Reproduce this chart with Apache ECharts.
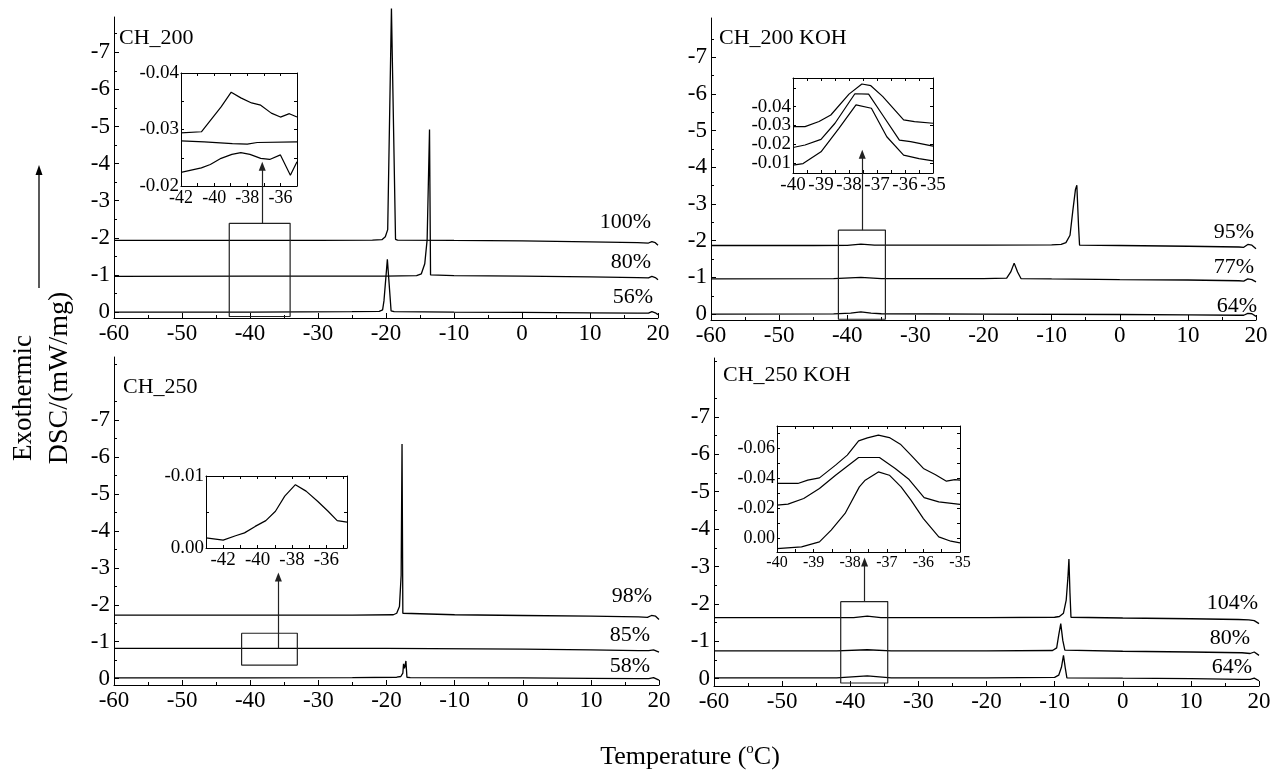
<!DOCTYPE html>
<html><head><meta charset="utf-8">
<script src="https://cdn.jsdelivr.net/npm/echarts@6/dist/echarts.min.js"></script>
<style>html,body{margin:0;padding:0;background:#fff}#c{width:1285px;height:772px}</style>
</head><body><div id="c"></div>
<script>
// ---------------- data ----------------
const panelTitles = ['CH_200', 'CH_200 KOH', 'CH_250', 'CH_250 KOH'];
const xTicks = [-60, -50, -40, -30, -20, -10, 0, 10, 20];
const yTicks = [-7, -6, -5, -4, -3, -2, -1, 0];
const yMinorTicks = [-8.5, -7.5, -6.5, -5.5, -4.5, -3.5, -2.5, -1.5, -0.5];

// CH_200
const ch200Labels = ['100%', '80%', '56%'];
const ch200_100 = [[-60,-1.93],[-45,-1.93],[-30,-1.93],[-22,-1.94],[-20.6,-1.95],[-20.1,-2.03],[-19.75,-2.22],[-19.2,-8.18],[-18.6,-1.96],[-18.3,-1.94],[-10,-1.93],[0,-1.92],[10,-1.89],[17,-1.87],[18.6,-1.86],[19.1,-1.9],[19.6,-1.87],[20,-1.8]];
const ch200_80 = [[-60,-0.96],[-40,-0.97],[-20,-0.97],[-15.5,-0.98],[-14.8,-1.03],[-14.3,-1.3],[-13.95,-1.95],[-13.6,-4.92],[-13.45,-1.0],[-13.2,-0.99],[-10,-0.98],[0,-0.97],[10,-0.95],[17,-0.93],[18.6,-0.92],[19.1,-0.96],[19.6,-0.93],[20,-0.87]];
const ch200_56 = [[-60,0.0],[-40,0.0],[-25,-0.01],[-21,-0.02],[-20.5,-0.06],[-20.3,-0.3],[-19.8,-1.42],[-19.25,-0.03],[-18.8,-0.01],[-10,0.0],[0,0.01],[10,0.02],[17,0.03],[18.6,0.03],[19.1,-0.01],[19.6,0.02],[20,0.07]];
const ch200Window = [-43.05, -34.1, -2.39, 0.12];
const ch200Arrow = [-38.2, -2.39, -3.93];
const ch200InsetX = [-42, -35];
const ch200InsetY = [-0.04, -0.02];
const ch200InsetXLabels = [-42, -40, -38, -36];
const ch200InsetXTicks = [-42, -41, -40, -39, -38, -37, -36, -35];
const ch200InsetYLabels = [-0.04, -0.03, -0.02];
const ch200InsetYTicks = [-0.04, -0.035, -0.03, -0.025, -0.02];
const ch200InsetA = [[-42,-0.0294],[-40.77,-0.0296],[-39.58,-0.034],[-38.97,-0.0366],[-38.39,-0.0356],[-37.74,-0.0347],[-37.19,-0.0343],[-36.55,-0.0329],[-36.0,-0.0322],[-35.46,-0.0328],[-35,-0.0322]];
const ch200InsetB = [[-42,-0.028],[-40.6,-0.0278],[-38.9,-0.0275],[-38.0,-0.0274],[-37.4,-0.0277],[-35,-0.0278]];
const ch200InsetC = [[-42,-0.0224],[-40.77,-0.0232],[-40.23,-0.0238],[-39.58,-0.0249],[-38.93,-0.0256],[-38.39,-0.0259],[-37.84,-0.0256],[-37.19,-0.0249],[-36.65,-0.0247],[-36.0,-0.0255],[-35.4,-0.0219],[-35,-0.0243]];

// CH_200 KOH
const ch200kLabels = ['95%', '77%', '64%'];
const ch200k_95 = [[-60,-1.87],[-45,-1.87],[-40,-1.875],[-38,-1.91],[-36,-1.88],[-20,-1.88],[-10,-1.89],[-8.6,-1.9],[-7.9,-1.95],[-7.3,-2.15],[-6.9,-2.8],[-6.5,-3.4],[-6.3,-3.51],[-6.05,-2.4],[-5.9,-1.88],[0,-1.87],[10,-1.85],[17.5,-1.83],[18.2,-1.82],[18.8,-1.9],[19.4,-1.88],[20,-1.78]];
const ch200k_77 = [[-60,-0.96],[-42,-0.965],[-38,-1.0],[-35,-0.97],[-20,-0.97],[-16.6,-0.98],[-16.0,-1.15],[-15.5,-1.39],[-15.0,-1.15],[-14.5,-0.97],[-10,-0.96],[0,-0.94],[10,-0.93],[17.5,-0.91],[18.2,-0.9],[18.8,-0.96],[19.4,-0.94],[20,-0.88]];
const ch200k_64 = [[-60,0.0],[-42,-0.005],[-39.5,-0.03],[-38,-0.06],[-36.5,-0.03],[-35,-0.01],[-20,0.0],[0,0.01],[10,0.02],[17.5,0.03],[18.2,0.03],[18.8,-0.02],[19.4,-0.01],[20,0.06]];
const ch200kWindow = [-41.3, -34.4, -2.29, 0.14];
const ch200kArrow = [-37.8, -2.29, -4.36];
const ch200kInsetX = [-40, -35];
const ch200kInsetY = [-0.0552, -0.0046];
const ch200kInsetXLabels = [-40, -39, -38, -37, -36, -35];
const ch200kInsetXTicks = [-40, -39.5, -39, -38.5, -38, -37.5, -37, -36.5, -36, -35.5, -35];
const ch200kInsetYLabels = [-0.04, -0.03, -0.02, -0.01];
const ch200kInsetYTicks = [-0.05, -0.04, -0.03, -0.02, -0.01];
const ch200kInsetA = [[-40,-0.0293],[-39.57,-0.0293],[-39.07,-0.032],[-38.65,-0.0355],[-38.0,-0.0466],[-37.54,-0.052],[-37.22,-0.0511],[-36.8,-0.0454],[-36.05,-0.0329],[-35.66,-0.032],[-35,-0.0311]];
const ch200kInsetB = [[-40,-0.0182],[-39.57,-0.0195],[-39.0,-0.0225],[-38.5,-0.0311],[-37.79,-0.0468],[-37.3,-0.0466],[-36.8,-0.0355],[-36.2,-0.0221],[-35.8,-0.0213],[-35,-0.0189]];
const ch200kInsetC = [[-40,-0.0088],[-39.64,-0.0096],[-39.0,-0.0159],[-38.36,-0.0284],[-37.75,-0.0409],[-37.2,-0.0391],[-36.65,-0.0239],[-36.05,-0.0141],[-35.5,-0.0123],[-35,-0.0111]];

// CH_250
const ch250Labels = ['98%', '85%', '58%'];
const ch250_98 = [[-60,-1.72],[-40,-1.72],[-25,-1.72],[-19,-1.73],[-18.5,-1.77],[-18.1,-1.95],[-17.85,-2.8],[-17.72,-6.35],[-17.6,-1.77],[-17.4,-1.74],[-10,-1.73],[0,-1.71],[10,-1.69],[17,-1.67],[18.3,-1.66],[18.9,-1.71],[19.5,-1.69],[20,-1.6]];
const ch250_85 = [[-60,-0.82],[-40,-0.82],[-20,-0.82],[0,-0.8],[10,-0.78],[17,-0.76],[18.5,-0.76],[19.2,-0.78],[20,-0.72]];
const ch250_58 = [[-60,-0.02],[-40,-0.02],[-25,-0.03],[-18.5,-0.04],[-17.9,-0.06],[-17.6,-0.15],[-17.5,-0.4],[-17.35,-0.28],[-17.15,-0.48],[-17.0,-0.04],[-16.5,-0.03],[0,-0.02],[10,-0.01],[17,0.0],[18.5,0.0],[19.2,-0.03],[20,0.04]];
const ch250Window = [-41.27, -33.09, -1.23, -0.37];
const ch250Arrow = [-35.87, -0.82, -2.75];
const ch250InsetX = [-43, -34.8];
const ch250InsetY = [-0.01, 0];
const ch250InsetXLabels = [-42, -40, -38, -36];
const ch250InsetXTicks = [-43, -42, -41, -40, -39, -38, -37, -36, -35];
const ch250InsetYLabels = [-0.01, 0];
const ch250InsetYTicks = [-0.01, -0.005, 0];
const ch250InsetA = [[-43,-0.0014],[-42,-0.0011],[-41.28,-0.0017],[-40.76,-0.0021],[-40.14,-0.003],[-39.52,-0.0038],[-38.96,-0.0051],[-38.42,-0.0072],[-37.8,-0.0088],[-37.18,-0.0079],[-36.51,-0.0065],[-35.9,-0.0051],[-35.37,-0.0038],[-34.8,-0.0036]];

// CH_250 KOH
const ch250kLabels = ['104%', '80%', '64%'];
const ch250k_104 = [[-60,-1.63],[-45,-1.63],[-39.5,-1.63],[-37.5,-1.67],[-35.5,-1.63],[-20,-1.63],[-10,-1.64],[-9.3,-1.66],[-8.7,-1.75],[-8.3,-2.1],[-8.05,-2.7],[-7.9,-3.2],[-7.75,-2.3],[-7.6,-1.64],[0,-1.62],[10,-1.6],[17,-1.58],[18.5,-1.57],[19.3,-1.55],[20,-1.47]];
const ch250k_80 = [[-60,-0.74],[-42,-0.74],[-37.5,-0.77],[-34,-0.74],[-20,-0.74],[-10.3,-0.75],[-9.7,-0.82],[-9.4,-1.16],[-9.1,-1.47],[-8.8,-1.02],[-8.5,-0.76],[0,-0.73],[10,-0.71],[17.5,-0.69],[18.7,-0.67],[19.3,-0.71],[20,-0.62]];
const ch250k_64 = [[-60,-0.02],[-42,-0.02],[-37.5,-0.07],[-34,-0.02],[-20,-0.02],[-10,-0.03],[-9.4,-0.09],[-9.0,-0.3],[-8.7,-0.62],[-8.45,-0.3],[-8.2,-0.02],[0,-0.01],[10,0.0],[17.5,0.02],[18.7,0.02],[19.3,-0.01],[20,0.06]];
const ch250kWindow = [-41.4, -34.5, -2.06, 0.12];
const ch250kArrow = [-37.9, -2.06, -3.12];
const ch250kInsetX = [-40, -35];
const ch250kInsetY = [-0.075, 0.009];
const ch250kInsetXLabels = [-40, -39, -38, -37, -36, -35];
const ch250kInsetXTicks = [-40, -39.5, -39, -38.5, -38, -37.5, -37, -36.5, -36, -35.5, -35];
const ch250kInsetYLabels = [-0.06, -0.04, -0.02, 0];
const ch250kInsetYTicks = [-0.07, -0.06, -0.05, -0.04, -0.03, -0.02, -0.01, 0];
const ch250kInsetA = [[-40,-0.0367],[-39.43,-0.0367],[-39.16,-0.0389],[-38.84,-0.0404],[-38.4,-0.0489],[-38.08,-0.0556],[-37.77,-0.0651],[-37.53,-0.0671],[-37.23,-0.0689],[-36.93,-0.0673],[-36.63,-0.0629],[-36.34,-0.0556],[-36.0,-0.0467],[-35.68,-0.0427],[-35.37,-0.0382],[-35.14,-0.0393],[-35,-0.0389]];
const ch250kInsetB = [[-40,-0.0222],[-39.7,-0.0229],[-39.27,-0.0267],[-38.84,-0.0333],[-38.4,-0.0422],[-37.77,-0.054],[-37.2,-0.054],[-36.77,-0.0467],[-36.39,-0.0393],[-35.98,-0.0273],[-35.58,-0.0244],[-35,-0.0227]];
const ch250kInsetC = [[-40,0.0067],[-39.33,0.0056],[-38.84,0.0022],[-38.52,-0.0056],[-38.14,-0.0167],[-37.75,-0.0344],[-37.59,-0.0389],[-37.23,-0.0444],[-36.93,-0.0422],[-36.61,-0.0344],[-36.34,-0.0256],[-36.0,-0.0133],[-35.58,-0.0011],[-35.25,0.0018],[-35,0.0029]];

// ---------------- layout (pixels) ----------------
const FONT = 'Liberation Serif';
const BLACK = '#000';
const panels = [
  { title: panelTitles[0], titlePos: [119, 38], grid: {left: 114, top: 17, width: 544, height: 301}, yRange: [-7.95, 0.16],
    curves: [ch200_100, ch200_80, ch200_56], labels: ch200Labels, labelPos: [[651, 222], [651, 262], [653, 297]],
    win: ch200Window, arrow: ch200Arrow,
    inset: { grid: {left: 181, top: 73, width: 116, height: 113}, x: ch200InsetX, y: ch200InsetY,
      xl: ch200InsetXLabels, xt: ch200InsetXTicks, yl: ch200InsetYLabels, yt: ch200InsetYTicks, xfs: 18, yfs: 19,
      curves: [ch200InsetA, ch200InsetB, ch200InsetC] } },
  { title: panelTitles[1], titlePos: [719, 38], grid: {left: 711, top: 18, width: 545, height: 302}, yRange: [-8.07, 0.16],
    curves: [ch200k_95, ch200k_77, ch200k_64], labels: ch200kLabels, labelPos: [[1254, 232], [1254, 267], [1257, 306]],
    win: ch200kWindow, arrow: ch200kArrow,
    inset: { grid: {left: 793, top: 78, width: 140, height: 95}, x: ch200kInsetX, y: ch200kInsetY,
      xl: ch200kInsetXLabels, xt: ch200kInsetXTicks, yl: ch200kInsetYLabels, yt: ch200kInsetYTicks, xfs: 19, yfs: 19,
      curves: [ch200kInsetA, ch200kInsetB, ch200kInsetC] } },
  { title: panelTitles[2], titlePos: [123, 387], grid: {left: 114, top: 357, width: 545, height: 328}, yRange: [-8.7, 0.17],
    curves: [ch250_98, ch250_85, ch250_58], labels: ch250Labels, labelPos: [[652, 596], [650, 635], [650, 666]],
    win: ch250Window, arrow: ch250Arrow,
    inset: { grid: {left: 206, top: 476, width: 141, height: 72}, x: ch250InsetX, y: ch250InsetY,
      xl: ch250InsetXLabels, xt: ch250InsetXTicks, yl: ch250InsetYLabels, yt: ch250InsetYTicks, xfs: 19, yfs: 19,
      curves: [ch250InsetA] } },
  { title: panelTitles[3], titlePos: [723, 375], grid: {left: 714, top: 358, width: 545, height: 328}, yRange: [-8.58, 0.2],
    curves: [ch250k_104, ch250k_80, ch250k_64], labels: ch250kLabels, labelPos: [[1258, 603], [1250, 638], [1252, 667]],
    win: ch250kWindow, arrow: ch250kArrow,
    inset: { grid: {left: 777, top: 426, width: 183, height: 126}, x: ch250kInsetX, y: ch250kInsetY,
      xl: ch250kInsetXLabels, xt: ch250kInsetXTicks, yl: ch250kInsetYLabels, yt: ch250kInsetYTicks, xfs: 16, yfs: 18,
      curves: [ch250kInsetA, ch250kInsetB, ch250kInsetC] } }
];

const option = { animation: false, backgroundColor: '#fff', grid: [], xAxis: [], yAxis: [], series: [], graphic: [] };
const lineW = { color: BLACK, width: 1 };
const labelBase = { color: BLACK, fontFamily: FONT, showMinLabel: true, showMaxLabel: true, hideOverlap: false };

function lineSeries(data, xi, yi, extra) {
  return Object.assign({ type: 'line', xAxisIndex: xi, yAxisIndex: yi, data: data, symbol: 'none', showSymbol: false,
    lineStyle: { color: BLACK, width: 1.3 }, clip: false, silent: true, animation: false, z: 3 }, extra || {});
}

panels.forEach(p => {
  // main grid
  option.grid.push(Object.assign({}, p.grid));
  const gi = option.grid.length - 1;
  option.xAxis.push({ gridIndex: gi, type: 'value', min: -60, max: 20, interval: 10, position: 'bottom',
    axisLine: { show: true, onZero: false, lineStyle: lineW },
    axisTick: { show: true, inside: true, length: 5, lineStyle: lineW },
    minorTick: { show: true, splitNumber: 2, length: 3, lineStyle: lineW },
    axisLabel: Object.assign({ fontSize: 23, margin: 4 }, labelBase),
    splitLine: { show: false }, minorSplitLine: { show: false } });
  const xi = option.xAxis.length - 1;
  option.yAxis.push({ gridIndex: gi, type: 'value', inverse: true, min: p.yRange[0], max: p.yRange[1], position: 'left',
    axisLine: { show: true, onZero: false, lineStyle: lineW },
    axisTick: { show: true, inside: true, length: 5, lineStyle: lineW, customValues: yTicks },
    axisLabel: Object.assign({ fontSize: 23, margin: 4, customValues: yTicks }, labelBase),
    splitLine: { show: false } });
  const yi = option.yAxis.length - 1;
  option.yAxis.push({ gridIndex: gi, type: 'value', inverse: true, min: p.yRange[0], max: p.yRange[1], position: 'left',
    axisLine: { show: false, onZero: false }, axisLabel: { show: false },
    axisTick: { show: true, inside: true, length: 3, lineStyle: lineW,
      customValues: yMinorTicks.filter(v => v > p.yRange[0] && v < p.yRange[1]) },
    splitLine: { show: false } });

  p.curves.forEach(c => option.series.push(lineSeries(c, xi, yi)));
  const w = p.win;
  option.series.push(lineSeries([[w[0], w[2]], [w[1], w[2]], [w[1], w[3]], [w[0], w[3]], [w[0], w[2]]], xi, yi, {
    lineStyle: { color: '#222', width: 1.2 },
    markLine: { silent: true, animation: false, symbol: ['none', 'triangle'], symbolSize: [7, 9],
      label: { show: false }, lineStyle: { color: '#222', type: 'solid', width: 1.2 },
      data: [[{ coord: [p.arrow[0], p.arrow[1]] }, { coord: [p.arrow[0], p.arrow[2]] }]] }
  }));

  // inset
  const ins = p.inset;
  option.grid.push(Object.assign({}, ins.grid));
  const gj = option.grid.length - 1;
  const tickIn = { show: true, inside: true, length: 3, lineStyle: lineW };
  option.xAxis.push({ gridIndex: gj, type: 'value', min: ins.x[0], max: ins.x[1], position: 'bottom',
    axisLine: { show: true, onZero: false, lineStyle: lineW },
    axisTick: Object.assign({ customValues: ins.xt }, tickIn),
    axisLabel: Object.assign({ fontSize: ins.xfs, margin: 3, customValues: ins.xl }, labelBase),
    splitLine: { show: false } });
  const xj = option.xAxis.length - 1;
  option.xAxis.push({ gridIndex: gj, type: 'value', min: ins.x[0], max: ins.x[1], position: 'top',
    axisLine: { show: true, onZero: false, lineStyle: lineW },
    axisTick: Object.assign({ customValues: ins.xt }, tickIn), axisLabel: { show: false }, splitLine: { show: false } });
  option.yAxis.push({ gridIndex: gj, type: 'value', inverse: true, min: ins.y[0], max: ins.y[1], position: 'left',
    axisLine: { show: true, onZero: false, lineStyle: lineW },
    axisTick: Object.assign({ customValues: ins.yt }, tickIn), axisLabel: { show: false },
    splitLine: { show: false } });
  const yj = option.yAxis.length - 1;
  // one label-only axis per label value so that tightly packed labels are never auto-hidden
  ins.yl.forEach(v => option.yAxis.push({ gridIndex: gj, type: 'value', inverse: true, min: ins.y[0], max: ins.y[1], position: 'left',
    axisLine: { show: false, onZero: false }, axisTick: { show: false },
    axisLabel: Object.assign({ fontSize: ins.yfs, margin: 2, customValues: [v], formatter: t => t.toFixed(2) }, labelBase),
    splitLine: { show: false } }));
  option.yAxis.push({ gridIndex: gj, type: 'value', inverse: true, min: ins.y[0], max: ins.y[1], position: 'right',
    axisLine: { show: true, onZero: false, lineStyle: lineW },
    axisTick: Object.assign({ customValues: ins.yt }, tickIn), axisLabel: { show: false }, splitLine: { show: false } });
  ins.curves.forEach(c => option.series.push(lineSeries(c, xj, yj, { lineStyle: { color: BLACK, width: 1.2 } })));

  // texts
  option.graphic.push({ type: 'text', x: p.titlePos[0], y: p.titlePos[1], silent: true,
    style: { text: p.title, font: '22px "' + FONT + '"', fill: BLACK, align: 'left', verticalAlign: 'middle' } });
  p.labels.forEach((t, k) => option.graphic.push({ type: 'text', x: p.labelPos[k][0], y: p.labelPos[k][1], silent: true,
    style: { text: t, font: '22px "' + FONT + '"', fill: BLACK, align: 'right', verticalAlign: 'middle' } }));
});

// axis titles
option.graphic.push({ type: 'text', x: 690, y: 757, silent: true,
  style: { text: 'Temperature ({s|o}C)', font: '26px "' + FONT + '"', fill: BLACK, align: 'center', verticalAlign: 'middle',
    rich: { s: { fontSize: 15, fontFamily: FONT, verticalAlign: 'top', lineHeight: 30 } } } });
option.graphic.push({ type: 'text', x: 60, y: 378, rotation: Math.PI / 2, silent: true,
  style: { text: 'DSC/(mW/mg)', font: '28px "' + FONT + '"', fill: BLACK, align: 'center', verticalAlign: 'middle' } });
option.graphic.push({ type: 'text', x: 24, y: 398, rotation: Math.PI / 2, silent: true,
  style: { text: 'Exothermic', font: '27px "' + FONT + '"', fill: BLACK, align: 'center', verticalAlign: 'middle' } });
option.graphic.push({ type: 'line', silent: true, shape: { x1: 39, y1: 288, x2: 39, y2: 172 }, style: { stroke: BLACK, lineWidth: 1.3 } });
option.graphic.push({ type: 'polygon', silent: true, shape: { points: [[39, 165], [35.5, 175], [42.5, 175]] }, style: { fill: BLACK } });

const chart = echarts.init(document.getElementById('c'), null, { renderer: 'canvas' });
chart.setOption(option);
</script></body></html>
